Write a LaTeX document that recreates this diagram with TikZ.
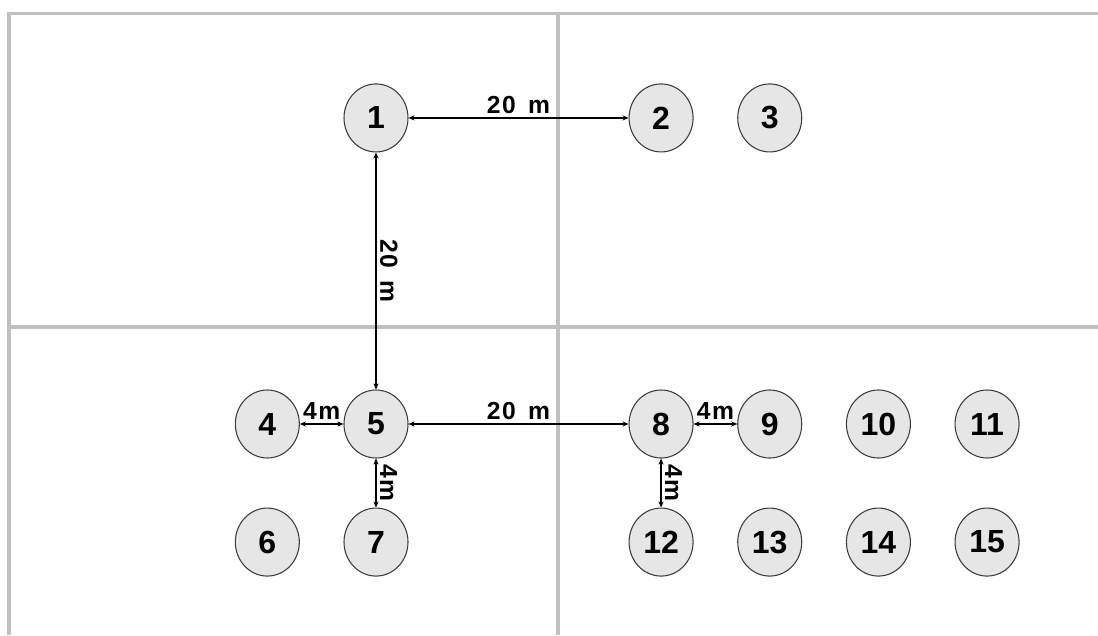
\documentclass[tikz,border=0pt]{standalone}
\usepackage{fontspec}
\setmainfont{Liberation Sans}
\usepackage{xcolor}
\usepackage{tikz}
\usetikzlibrary{arrows.meta,positioning,shapes.geometric}
\definecolor{plotgray}{RGB}{192,192,192}
\definecolor{plantfill}{RGB}{230,230,230}
\definecolor{plantline}{RGB}{60,60,60}
\tikzset{
  plant/.style={ellipse,draw=plantline,fill=plantfill,line width=0.8pt,
                minimum width=48pt,minimum height=51pt,inner sep=0pt,
                font=\fontsize{24}{24}\selectfont\bfseries},
  dist/.style={font=\fontsize{18.5}{18.5}\selectfont\bfseries\addfontfeature{LetterSpace=6},
               inner sep=2.5pt},
  arr/.style={{Stealth[length=4.5pt,width=3.8pt]}-{Stealth[length=4.5pt,width=3.8pt]},
              line width=1.2pt},
  plotline/.style={draw=plotgray,line width=2.3pt},
}

\begin{document}
\begin{tikzpicture}[x=0.75pt,y=-0.75pt,node distance=36.75pt and 32.7pt]
  \useasboundingbox (0,0) rectangle (1098,635);

  % --- plot borders ---
  \draw[plotline] (1098,13.5) -- (9,13.5) -- (9,635);
  \draw[plotline] (558,13.5) -- (558,635);
  \draw[plotline] (9,327) -- (1098,327);

  % --- plants ---
  \node[plant] (p5) at (376,424) {5};
  \node[plant, left=of p5] (p4) {4};
  \node[plant, below=of p5] (p7) {7};
  \node[plant, below=of p4] (p6) {6};
  \node[plant, above=177.75pt of p5] (p1) {1};
  \node[plant, right=165pt of p1] (p2) {2};
  \node[plant, right=of p2] (p3) {3};

  \node[plant, right=165pt of p5] (p8) {8};
  \node[plant, right=of p8] (p9) {9};
  \node[plant, right=of p9] (p10) {10};
  \node[plant, right=of p10] (p11) {11};
  \node[plant, below=of p8] (p12) {12};
  \node[plant, below=of p9] (p13) {13};
  \node[plant, below=of p10] (p14) {14};
  \node[plant, below=of p11] (p15) {15};

  % --- distances ---
  \draw[arr] (p1) -- node[dist, above] {20 \,m} (p2);
  \draw[arr] (p1) -- node[dist, rotate=-90, anchor=south] {20 \,m} (p5);
  \draw[arr] (p5) -- node[dist, above] {20 \,m} (p8);
  \draw[arr] (p4) -- node[dist, above] {4m} (p5);
  \draw[arr] (p5) -- node[dist, rotate=-90, anchor=south] {4m} (p7);
  \draw[arr] (p8) -- node[dist, above] {4m} (p9);
  \draw[arr] (p8) -- node[dist, rotate=-90, anchor=south] {4m} (p12);
\end{tikzpicture}
\end{document}
